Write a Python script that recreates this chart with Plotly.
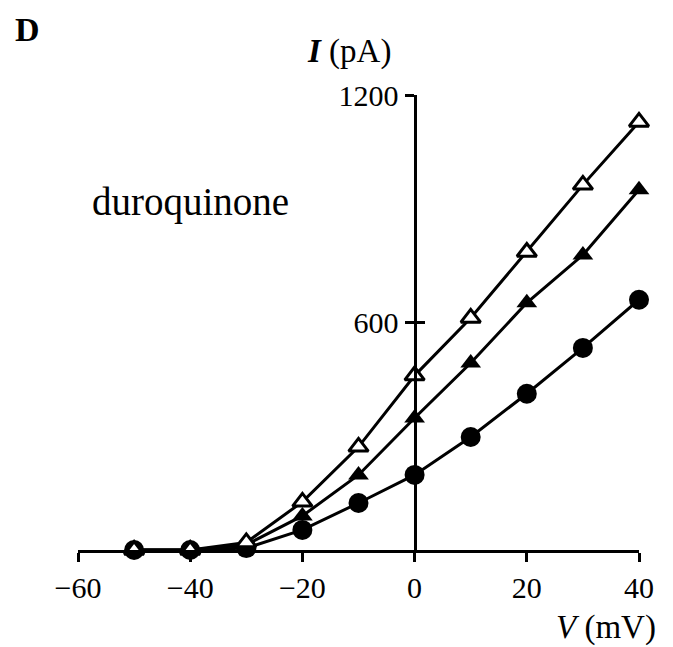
import plotly.graph_objects as go

# Data
voltage = [-50, -40, -30, -20, -10, 0, 10, 20, 30, 40]
open_triangles = [0, 0, 20, 127, 272, 460, 612, 786, 963, 1129]
filled_triangles = [0, 0, 14, 90, 198, 348, 493, 652, 778, 950]
circles = [0, 0, 5, 53, 124, 198, 298, 412, 533, 660]

x_ticks = [-60, -40, -20, 0, 20, 40]
x_ticktext = ["\u221260", "\u221240", "\u221220", "0", "20", "40"]
y_ticks = [600, 1200]
y_ticktext = ["600", "1200"]

FONT = "Liberation Serif"
OFF = 8  # page body margin of the html page
W, H = 673 - OFF, 647 - OFF
L, T = 78 - OFF, 95 - OFF
R = W - (639 - OFF)
B = H - (550 - OFF)

fig = go.Figure()

fig.add_trace(go.Scatter(
    x=voltage, y=circles, mode="lines+markers", cliponaxis=False,
    line=dict(color="black", width=3),
    marker=dict(symbol="circle", size=20, color="black"),
    showlegend=False))
fig.add_trace(go.Scatter(
    x=voltage, y=filled_triangles, mode="lines+markers", cliponaxis=False,
    line=dict(color="black", width=3),
    marker=dict(symbol="triangle-up", size=18, color="black"),
    showlegend=False))
fig.add_trace(go.Scatter(
    x=voltage, y=open_triangles, mode="lines+markers", cliponaxis=False,
    line=dict(color="black", width=3),
    marker=dict(symbol="triangle-up", size=17, color="white",
                line=dict(color="black", width=3)),
    showlegend=False))
# invisible trace to hold the crossing-tick overlay axis
fig.add_trace(go.Scatter(x=[0], y=[0], yaxis="y2", mode="markers",
                         marker=dict(opacity=0), showlegend=False,
                         hoverinfo="skip"))

TICKFONT = dict(family=FONT, size=30, color="black")

fig.update_layout(
    width=W, height=H, autosize=False,
    margin=dict(l=L, r=R, t=T, b=B, pad=0),
    paper_bgcolor="white", plot_bgcolor="white",
    font=dict(family=FONT, color="black", size=30),
    xaxis=dict(range=[-60, 40], tickvals=x_ticks, ticktext=x_ticktext,
               showgrid=False, zeroline=False, showline=True,
               linecolor="black", linewidth=3,
               ticks="outside", ticklen=9, tickwidth=2.5, tickcolor="black",
               tickfont=TICKFONT),
    yaxis=dict(range=[0, 1200], tickvals=y_ticks, ticktext=y_ticktext,
               anchor="free", position=0.6,
               showgrid=False, zeroline=False, showline=True,
               linecolor="black", linewidth=3,
               ticks="outside", ticklen=9, tickwidth=2.5, tickcolor="black",
               tickfont=TICKFONT),
    yaxis2=dict(range=[0, 1200], tickvals=y_ticks, overlaying="y",
                anchor="free", position=0.6, side="left",
                showgrid=False, zeroline=False, showline=False,
                ticks="inside", ticklen=9, tickwidth=2.5, tickcolor="black",
                showticklabels=False),
)

pw, ph = W - L - R, H - T - B


def px(xp, yp):
    # page pixel position -> paper coordinates
    return (xp - OFF - L) / pw, (H - B - (yp - OFF)) / ph


annots = [
    dict(text="<b>D</b>", pos=(27, 9), size=34, yanchor="top"),
    dict(text="<b><i>I</i></b> (pA)", pos=(349, 52), size=33, yanchor="middle"),
    dict(text="duroquinone", pos=(190, 202), size=39, yanchor="middle"),
    dict(text="<i>V</i> (mV)", pos=(606, 627), size=33, yanchor="middle"),
]
for a in annots:
    xp, yp = px(*a["pos"])
    fig.add_annotation(x=xp, y=yp, xref="paper", yref="paper",
                       text=a["text"], showarrow=False,
                       xanchor="center", yanchor=a["yanchor"],
                       font=dict(family=FONT, size=a["size"], color="black"))

fig.write_html("out.html")
